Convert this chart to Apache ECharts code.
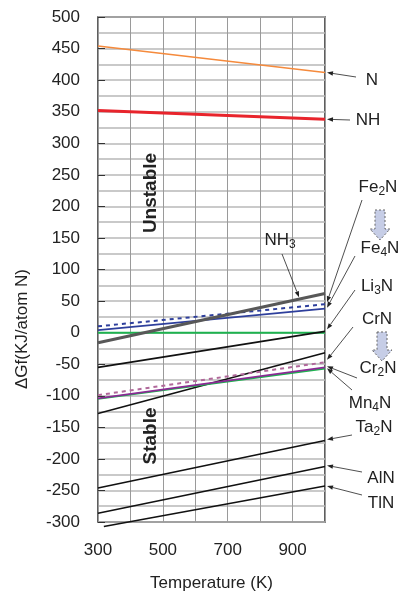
<!DOCTYPE html>
<html>
<head>
<meta charset="UTF-8">
<title>nitride_gibbs</title>
<script src="https://cdn.jsdelivr.net/npm/echarts@6/dist/echarts.min.js"></script>
<style>
  html, body { margin: 0; padding: 0; background: #fff; }
  #main { width: 402px; height: 599px; }
</style>
</head>
<body>
<div id="main"></div>
<script>
// temperatures (K) at the two ends of every line
var temps = [300, 1000];
var TlN_temps = [318, 1000];   // TlN line starts just under the bottom edge
// ΔGf (kJ / atom N) at the two ends
var N_vals    = [454, 412];
var NH_vals   = [352, 338];
var Fe2N_vals = [10, 45];
var Fe4N_vals = [4, 38];
var NH3_vals  = [-16, 62];
var zero_vals = [0, 0];
var Li3N_vals = [-55, 2];
var CrN_vals  = [-128, -32];
var Cr2N_vals = [-99, -47];
var Mn4N_vals = [-104, -55];
var grn2_vals = [-105, -57];
var Ta2N_vals = [-246, -171];
var AlN_vals  = [-286, -212];
var TlN_vals  = [-307, -243];
var xTicks = [300, 500, 700, 900];

var FONT = "'Liberation Sans', Arial, sans-serif";

function pts(vals, xs) {
  xs = xs || temps;
  return xs.map(function (t, i) { return [t, vals[i]]; });
}
function line(name, vals, color, width, dash, xs) {
  return {
    name: name, type: 'line', data: pts(vals, xs), symbol: 'none', silent: true,
    lineStyle: { color: color, width: width, type: dash || 'solid' }
  };
}

var myChart = echarts.init(document.getElementById('main'));

var tlnSeries = line('TlN', TlN_vals, '#111', 1.6, null, TlN_temps);
tlnSeries.clip = false;

var option = {
  animation: false,
  grid: {
    left: 98, right: 77, top: 17, bottom: 77,
    show: true, borderColor: '#2a2a2a', borderWidth: 1.5, backgroundColor: '#fff'
  },
  xAxis: {
    type: 'value', min: 300, max: 1000, interval: 100,
    name: 'Temperature (K)', nameLocation: 'middle', nameGap: 53,
    nameTextStyle: { fontSize: 17, color: '#222', fontFamily: FONT },
    axisLine: { show: false },
    axisTick: { show: false },
    axisLabel: {
      fontSize: 17, color: '#222', fontFamily: FONT, margin: 20,
      formatter: function (v) { return xTicks.indexOf(v) >= 0 ? String(v) : ''; }
    },
    splitLine: { show: true, lineStyle: { color: '#9a9a9a', width: 1 } }
  },
  yAxis: {
    type: 'value', min: -300, max: 500, interval: 50,
    axisLine: { show: false },
    axisTick: { show: true, inside: true, length: 7, lineStyle: { color: '#333', width: 1 } },
    axisLabel: { fontSize: 17, color: '#222', fontFamily: FONT, margin: 18 },
    splitLine: { show: true, lineStyle: { color: '#b8b8b8', width: 1.5 } },
    minorTick: { show: false, splitNumber: 2 },
    minorSplitLine: { show: true, lineStyle: { color: '#b8b8b8', width: 1.5 } }
  },
  series: [
    line('N', N_vals, '#f58a3c', 1.6),
    line('NH', NH_vals, '#e8242c', 3),
    line('zero', zero_vals, '#1db34f', 2),
    line('Fe4N', Fe4N_vals, '#2e3f9c', 1.6),
    line('Fe2N', Fe2N_vals, '#2e3f9c', 2, [4, 4]),
    line('NH3', NH3_vals, '#585858', 3),
    line('Li3N', Li3N_vals, '#111', 1.6),
    line('CrN', CrN_vals, '#111', 1.6),
    line('green2', grn2_vals, '#1db34f', 1.6),
    line('Cr2N', Cr2N_vals, '#b0689a', 2, [4, 4]),
    line('Mn4N', Mn4N_vals, '#8a2a94', 1.8),
    line('Ta2N', Ta2N_vals, '#111', 1.6),
    line('AlN', AlN_vals, '#111', 1.6),
    tlnSeries
  ]
};
myChart.setOption(option);

// ---- annotations ----
var rich = {
  a: { fontSize: 17, fontFamily: FONT, color: '#222' },
  s: { fontSize: 12, fontFamily: FONT, color: '#222', padding: [9, 0, 0, 0] }
};
function label(txt, x, y, align) {
  return {
    type: 'text', x: x, y: y, silent: true,
    style: { text: txt, rich: rich, align: align || 'center', verticalAlign: 'middle', fill: '#222' }
  };
}
function tip(vals, dy) {
  var p = myChart.convertToPixel({ gridIndex: 0 }, [1000, vals[1]]);
  return [p[0] + 2, p[1] + (dy || 0)];
}
function arrow(x1, y1, to) {
  var x2 = to[0], y2 = to[1];
  var ang = Math.atan2(y2 - y1, x2 - x1);
  var L = 6, W = 2.2;
  var bx = x2 - L * Math.cos(ang), by = y2 - L * Math.sin(ang);
  var nx = -Math.sin(ang) * W, ny = Math.cos(ang) * W;
  return [
    { type: 'line', silent: true, shape: { x1: x1, y1: y1, x2: bx, y2: by },
      style: { stroke: '#222', lineWidth: 0.8 } },
    { type: 'polygon', silent: true, shape: { points: [[x2, y2], [bx + nx, by + ny], [bx - nx, by - ny]] },
      style: { fill: '#222' } }
  ];
}
function blockArrow(cx, top, neck, bottom) {
  return {
    type: 'polygon', silent: true,
    shape: { points: [
      [cx - 5, top], [cx + 5, top], [cx + 5, neck], [cx + 10, neck],
      [cx, bottom], [cx - 10, neck], [cx - 5, neck]
    ] },
    style: { fill: '#c6cde6', stroke: '#666', lineWidth: 1, lineDash: [2, 2] }
  };
}

var g = [];
g.push({
  type: 'text', x: 22, y: 329, rotation: Math.PI / 2, silent: true,
  style: { text: 'ΔGf(KJ/atom N)', font: '17px ' + FONT, fill: '#222', align: 'center', verticalAlign: 'middle' }
});
g.push({
  type: 'text', x: 151, y: 193, rotation: Math.PI / 2, silent: true,
  style: { text: 'Unstable', font: 'bold 19px ' + FONT, fill: '#222', align: 'center', verticalAlign: 'middle' }
});
g.push({
  type: 'text', x: 151, y: 436, rotation: Math.PI / 2, silent: true,
  style: { text: 'Stable', font: 'bold 19px ' + FONT, fill: '#222', align: 'center', verticalAlign: 'middle' }
});

g.push(label('{a|N}', 372, 80));
g.push(label('{a|NH}', 368, 120));
g.push(label('{a|Fe}{s|2}{a|N}', 378, 187));
g.push(label('{a|Fe}{s|4}{a|N}', 380, 248));
g.push(label('{a|Li}{s|3}{a|N}', 377, 286));
g.push(label('{a|CrN}', 377, 319));
g.push(label('{a|Cr}{s|2}{a|N}', 378, 368));
g.push(label('{a|Mn}{s|4}{a|N}', 370, 403));
g.push(label('{a|Ta}{s|2}{a|N}', 374, 427));
g.push(label('{a|AlN}', 381, 478));
g.push(label('{a|TlN}', 381, 503));
g.push(label('{a|NH}{s|3}', 280, 240));

g = g.concat(arrow(356, 77, tip(N_vals)));
g = g.concat(arrow(350, 120, tip(NH_vals)));
g = g.concat(arrow(362, 200, tip(Fe2N_vals, -2)));
g = g.concat(arrow(355, 256, tip(Fe4N_vals, -1)));
g = g.concat(arrow(355, 290, tip(Li3N_vals, -2)));
g = g.concat(arrow(353, 327, tip(CrN_vals, 7)));
g = g.concat(arrow(357, 378, tip(Cr2N_vals, 4)));
g = g.concat(arrow(352, 390, tip(Mn4N_vals, 1)));
g = g.concat(arrow(352, 435, tip(Ta2N_vals, -1)));
g = g.concat(arrow(362, 472, tip(AlN_vals, -1)));
g = g.concat(arrow(362, 495, tip(TlN_vals, 0)));
g = g.concat(arrow(282, 254, myChart.convertToPixel({ gridIndex: 0 }, [920, 56])));

g.push(blockArrow(380, 210, 229, 240));
g.push(blockArrow(382, 332, 350, 361));

myChart.setOption({ graphic: { elements: g } });
</script>
</body>
</html>
